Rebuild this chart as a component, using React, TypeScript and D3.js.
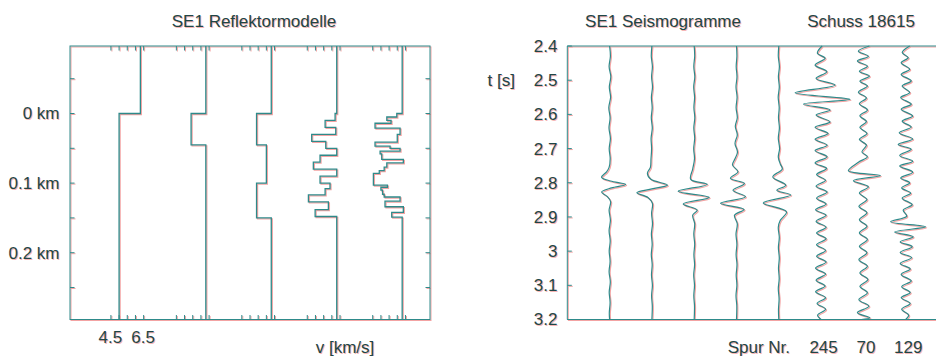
import React from 'react';
import * as d3 from 'd3';

const W = 936;
const H = 356;

// ---------- SE1 Reflektormodelle ----------
// velocity above the first reflector, then [depth of layer top (km), v (km/s)]
const vAbove = [6.3, 6.3, 6.3, 6.3, 6.3];
const model1: [number, number][] = [[0, 5.0]];
const model2: [number, number][] = [[0, 5.4], [0.045, 6.3]];
const model3: [number, number][] = [[0, 5.4], [0.045, 6.0], [0.1, 5.4], [0.15, 6.3]];
const model4: [number, number][] = [
  [0, 6.2], [0.01, 5.59], [0.02, 6.24], [0.03, 4.77], [0.04, 5.63], [0.05, 6.3],
  [0.06, 5.28], [0.07, 4.87], [0.08, 6.3], [0.09, 5.28], [0.1, 5.89], [0.108, 5.59],
  [0.117, 4.57], [0.127, 5.79], [0.138, 4.98], [0.148, 6.3],
];
const model5: [number, number][] = [
  [0, 5.97], [0.005, 5.36], [0.01, 5.62], [0.014, 4.64], [0.021, 6.17], [0.03, 6.0],
  [0.041, 4.64], [0.047, 5.56], [0.05, 6.17], [0.054, 4.95], [0.058, 5.05], [0.066, 6.37],
  [0.071, 5.36], [0.077, 5.2], [0.082, 4.9], [0.086, 4.54], [0.103, 5.4], [0.106, 5.0],
  [0.11, 5.1], [0.116, 5.2], [0.12, 6.17], [0.126, 5.25], [0.134, 6.37], [0.142, 5.66],
  [0.149, 6.3],
];
const models = [model1, model2, model3, model4, model5];
const modelShift = 4; // km/s between neighbouring models
const vTicks = [4.5, 5, 5.5, 6, 6.5];
const vLabels = [4.5, 6.5];
const depthTicks = [-0.05, 0, 0.05, 0.1, 0.15, 0.2, 0.25];
const depthLabels = [0, 0.1, 0.2];

// ---------- SE1 Seismogramme ----------
// [t (s), amplitude]
const synth1: [number, number][] = [
  [2.4, 0], [2.43, 0.8], [2.46, -0.5], [2.49, 1.2], [2.52, -0.3], [2.55, 1], [2.58, -0.8],
  [2.61, 0.5], [2.64, -0.6], [2.67, 0.8], [2.7, -0.4], [2.73, 0.6], [2.755, -0.5],
  [2.768, -3], [2.784, -8], [2.795, 1], [2.805, 16], [2.815, 2], [2.827, -8], [2.84, -2.5],
  [2.855, 1], [2.88, -0.5], [2.91, 0.8], [2.94, -0.5], [2.97, 0.6], [3.0, -0.4], [3.03, 0.5],
  [3.06, -0.5], [3.09, 0.7], [3.12, -0.4], [3.15, 0.5], [3.18, -0.3], [3.2, 0],
];
const synth2: [number, number][] = [
  [2.4, 0], [2.43, -0.6], [2.46, 0.5], [2.49, -0.3], [2.52, 0.6], [2.55, -0.5], [2.58, 0.3],
  [2.61, -0.6], [2.64, 0.4], [2.67, -0.8], [2.7, -0.3], [2.73, -0.9], [2.755, -1.5],
  [2.772, -4.5], [2.79, -1], [2.807, 15.5], [2.818, 0], [2.829, -15], [2.843, -4], [2.86, 0.5],
  [2.89, -0.3], [2.92, 0.6], [2.95, -0.5], [2.98, 0.3], [3.01, -0.6], [3.04, 0.3],
  [3.07, -0.4], [3.1, 0.5], [3.13, -0.3], [3.16, 0.4], [3.2, 0],
];
const synth3: [number, number][] = [
  [2.4, 0], [2.43, 0.5], [2.46, -0.4], [2.49, 0.6], [2.52, -0.5], [2.55, 0.4], [2.58, -0.3],
  [2.61, 0.6], [2.64, -0.4], [2.67, 0.5], [2.7, -0.5], [2.73, 0.3], [2.76, -1.5],
  [2.79, -3.5], [2.805, 13], [2.825, -16], [2.843, 15], [2.862, -11], [2.88, 3],
  [2.895, -1.5], [2.92, 0.5], [2.95, -0.4], [2.98, 0.5], [3.01, -0.3], [3.04, 0.4],
  [3.07, -0.5], [3.1, 0.3], [3.13, -0.4], [3.16, 0.3], [3.2, 0],
];
const synth4: [number, number][] = [
  [2.4, 0], [2.43, 0.4], [2.46, -0.3], [2.49, 0.5], [2.52, -0.5], [2.55, 0.6], [2.58, -0.4],
  [2.61, 0.8], [2.635, -1.2], [2.66, 0.8], [2.685, -1.5], [2.71, 1], [2.73, -1.5],
  [2.748, -4], [2.768, 1.5], [2.787, -6], [2.802, 8], [2.822, -3.5], [2.841, 9], [2.86, -16],
  [2.878, 7.5], [2.895, -2], [2.92, 0.8], [2.95, -0.5], [2.98, 0.4], [3.01, -0.4],
  [3.04, 0.5], [3.07, -0.3], [3.1, 0.4], [3.13, -0.5], [3.16, 0.3], [3.2, 0],
];
const synth5: [number, number][] = [
  [2.4, 0], [2.43, -0.5], [2.46, 0.6], [2.49, -0.4], [2.52, 0.5], [2.55, -0.6], [2.58, 0.4],
  [2.61, -0.3], [2.64, 0.6], [2.67, -0.5], [2.7, 0.8], [2.725, -0.5], [2.745, 1.5],
  [2.76, 3.5], [2.783, -6], [2.807, 7], [2.822, -2], [2.836, 12], [2.859, -15.5],
  [2.885, 7.7], [2.91, 1.5], [2.93, -0.5], [2.96, 0.5], [2.99, -0.4], [3.02, 0.5],
  [3.05, -0.3], [3.08, 0.4], [3.11, -0.5], [3.14, 0.3], [3.17, -0.3], [3.2, 0],
];
const spur245: [number, number][] = [
  [2.4, 1], [2.421, -3.7], [2.436, 4], [2.456, -6], [2.475, 5.7], [2.495, -5], [2.514, 14],
  [2.537, -26], [2.556, 29], [2.57, -17.7], [2.587, 9], [2.602, -5], [2.622, 9], [2.638, -6],
  [2.656, 7], [2.673, -6], [2.69, 6], [2.706, -6], [2.724, 6], [2.742, -6], [2.758, 5.5],
  [2.776, -4.5], [2.793, 4.5], [2.81, -5], [2.827, 6], [2.845, -4.5], [2.862, 5],
  [2.879, -5.5], [2.895, 5], [2.913, -5], [2.93, 5], [2.947, -4.5], [2.964, 5], [2.981, -4.5],
  [2.998, 4.5], [3.015, -4.5], [3.032, 5], [3.05, -5.5], [3.067, 4.5], [3.085, -5],
  [3.102, 4], [3.119, -5.5], [3.136, 4.5], [3.153, -4], [3.17, 4.5], [3.187, -3.5], [3.2, 0],
];
const spur70: [number, number][] = [
  [2.4, 6], [2.415, -5], [2.43, 5], [2.444, -6], [2.459, 4], [2.474, -4], [2.488, 6],
  [2.503, -3.5], [2.517, 4], [2.535, -5], [2.552, 3], [2.569, -4], [2.587, 4], [2.604, -3.5],
  [2.621, 3], [2.638, -3.5], [2.656, 3.5], [2.673, -4], [2.69, 3], [2.71, -1.5], [2.724, 4],
  [2.74, -5], [2.765, -15], [2.779, 17], [2.794, -10], [2.812, 5], [2.83, -4], [2.849, 3.5],
  [2.869, -4.5], [2.888, 3.5], [2.908, -4], [2.927, 3.5], [2.947, -4], [2.966, 4],
  [2.986, -4], [3.005, 3.5], [3.025, -4.5], [3.044, 4], [3.064, -3.5], [3.083, 4.5],
  [3.103, -3.5], [3.122, 4], [3.142, -4.5], [3.161, 5.5], [3.18, -6], [3.195, 6.5], [3.2, -2],
];
const spur129: [number, number][] = [
  [2.4, 4], [2.419, -3.5], [2.434, 2.5], [2.449, -4.5], [2.468, 4], [2.483, -4.5],
  [2.502, 5.5], [2.517, -3.5], [2.536, 4], [2.551, -5], [2.57, 5.5], [2.585, -4.5],
  [2.605, 7], [2.62, -3.5], [2.637, 5.5], [2.654, -6.5], [2.672, 7], [2.688, -7.5],
  [2.702, 5.5], [2.72, -6], [2.737, 7], [2.751, -6], [2.769, 7], [2.786, -5], [2.8, 4],
  [2.815, -4], [2.83, 5], [2.845, -3.5], [2.864, 6.5], [2.88, -2.5], [2.898, 1],
  [2.914, -15], [2.929, 20], [2.944, -11], [2.958, 7.5], [2.973, -5.5], [2.987, 6.5],
  [3.004, -5.5], [3.019, 6], [3.036, -5.5], [3.052, 4.5], [3.068, -4.5], [3.087, 5.5],
  [3.104, -4], [3.121, 4.5], [3.136, -4.5], [3.153, 4.5], [3.17, -4], [3.187, 3], [3.2, 0],
];
const traces = [synth1, synth2, synth3, synth4, synth5, spur245, spur70, spur129];
const traceNames = ['', '', '', '', '', '245', '70', '129'];
const timeTicks = [2.4, 2.5, 2.6, 2.7, 2.8, 2.9, 3.0, 3.1, 3.2];
const gain = 1 / 42.3; // amplitude -> trace spacing

// scales
const xL = d3.scaleLinear().domain([2, 24]).range([70, 430]);
const yL = d3.scaleLinear().domain([-0.097, 0.296]).range([46, 319.5]);
const xR = d3.scaleLinear().domain([0, 9]).range([567.3, 948]);
const yR = d3.scaleLinear().domain([2.4, 3.2]).range([46, 319.5]);

const font = '"Liberation Sans", Arial, sans-serif';

const Layer = ({ ink, txt, shift }: { ink: string; txt: string; shift: number }) => {
  const [d0, d1] = yL.domain();
  const profile = (k: number) => {
    const m = models[k];
    const pts: [number, number][] = [
      [vAbove[k], d0],
      ...m.map(([d, v]) => [v, d] as [number, number]),
      [m[m.length - 1][1], d1],
    ];
    return d3
      .line<[number, number]>()
      .x((p) => xL(p[0] + modelShift * k))
      .y((p) => yL(p[1]))
      .curve(d3.curveStepBefore)(pts);
  };
  const wiggle = (i: number) =>
    d3
      .line<[number, number]>()
      .x((p) => xR(i + 1 + p[1] * gain))
      .y((p) => yR(p[0]))
      .curve(d3.curveCatmullRom)(traces[i]);

  return (
    <g transform={`translate(${shift},${shift})`} fontFamily={font} fontSize={17} fill={txt}>
      {/* left panel frame */}
      <rect x={70} y={46} width={360} height={273.5} fill="none" stroke={ink} strokeWidth={1} />
      {models.map((_, k) =>
        vTicks.map((v) => (
          <g key={`t${k}-${v}`} stroke={ink}>
            <line x1={xL(v + modelShift * k)} x2={xL(v + modelShift * k)} y1={46} y2={50.5} />
            <line x1={xL(v + modelShift * k)} x2={xL(v + modelShift * k)} y1={319.5} y2={315} />
          </g>
        ))
      )}
      {depthTicks.map((d) => (
        <g key={`d${d}`} stroke={ink}>
          <line x1={70} x2={74.5} y1={yL(d)} y2={yL(d)} />
          <line x1={430} x2={425.5} y1={yL(d)} y2={yL(d)} />
        </g>
      ))}
      {models.map((_, k) => (
        <path key={`m${k}`} d={profile(k) || ''} fill="none" stroke={ink} strokeWidth={1.3} />
      ))}
      {depthLabels.map((d) => (
        <text key={`dl${d}`} x={59.5} y={yL(d)} dy="0.35em" textAnchor="end">
          {`${d} km`}
        </text>
      ))}
      {vLabels.map((v) => (
        <text key={`vl${v}`} x={xL(v) - 0.5} y={343} textAnchor="middle">
          {v}
        </text>
      ))}
      <text x={345} y={352.5} textAnchor="middle">v [km/s]</text>
      <text x={254} y={26.5} textAnchor="middle">SE1 Reflektormodelle</text>

      {/* right panel */}
      <path d={`M948,46H567.3V319.5H948`} fill="none" stroke={ink} strokeWidth={1} />
      {timeTicks.map((t) => (
        <g key={`tt${t}`}>
          <line x1={567.3} x2={571.8} y1={yR(t)} y2={yR(t)} stroke={ink} />
          <text x={557.5} y={yR(t)} dy="0.35em" textAnchor="end">
            {d3.format('~g')(t)}
          </text>
        </g>
      ))}
      {traces.map((_, i) => (
        <path key={`w${i}`} d={wiggle(i) || ''} fill="none" stroke={ink} strokeWidth={1.2} />
      ))}
      <text x={515} y={yR(2.5)} dy="0.35em" textAnchor="end">t [s]</text>
      <text x={663} y={26.5} textAnchor="middle">SE1 Seismogramme</text>
      <text x={861} y={26.5} textAnchor="middle">Schuss 18615</text>
      <text x={790} y={352.5} textAnchor="end">Spur Nr.</text>
      {traceNames.map((n, i) =>
        n ? (
          <text key={`n${i}`} x={xR(i + 1) + 2.5} y={352.5} textAnchor="middle">
            {n}
          </text>
        ) : null
      )}
    </g>
  );
};

export default function App() {
  return (
    <svg width={W} height={H} style={{ position: 'absolute', left: 0, top: 0 }}>
      <rect width={W} height={H} fill="#fff" />
      <Layer ink="#f3a3a3" txt="#f5b5b5" shift={1} />
      <Layer ink="#2e8a8a" txt="#1f4646" shift={0} />
    </svg>
  );
}
